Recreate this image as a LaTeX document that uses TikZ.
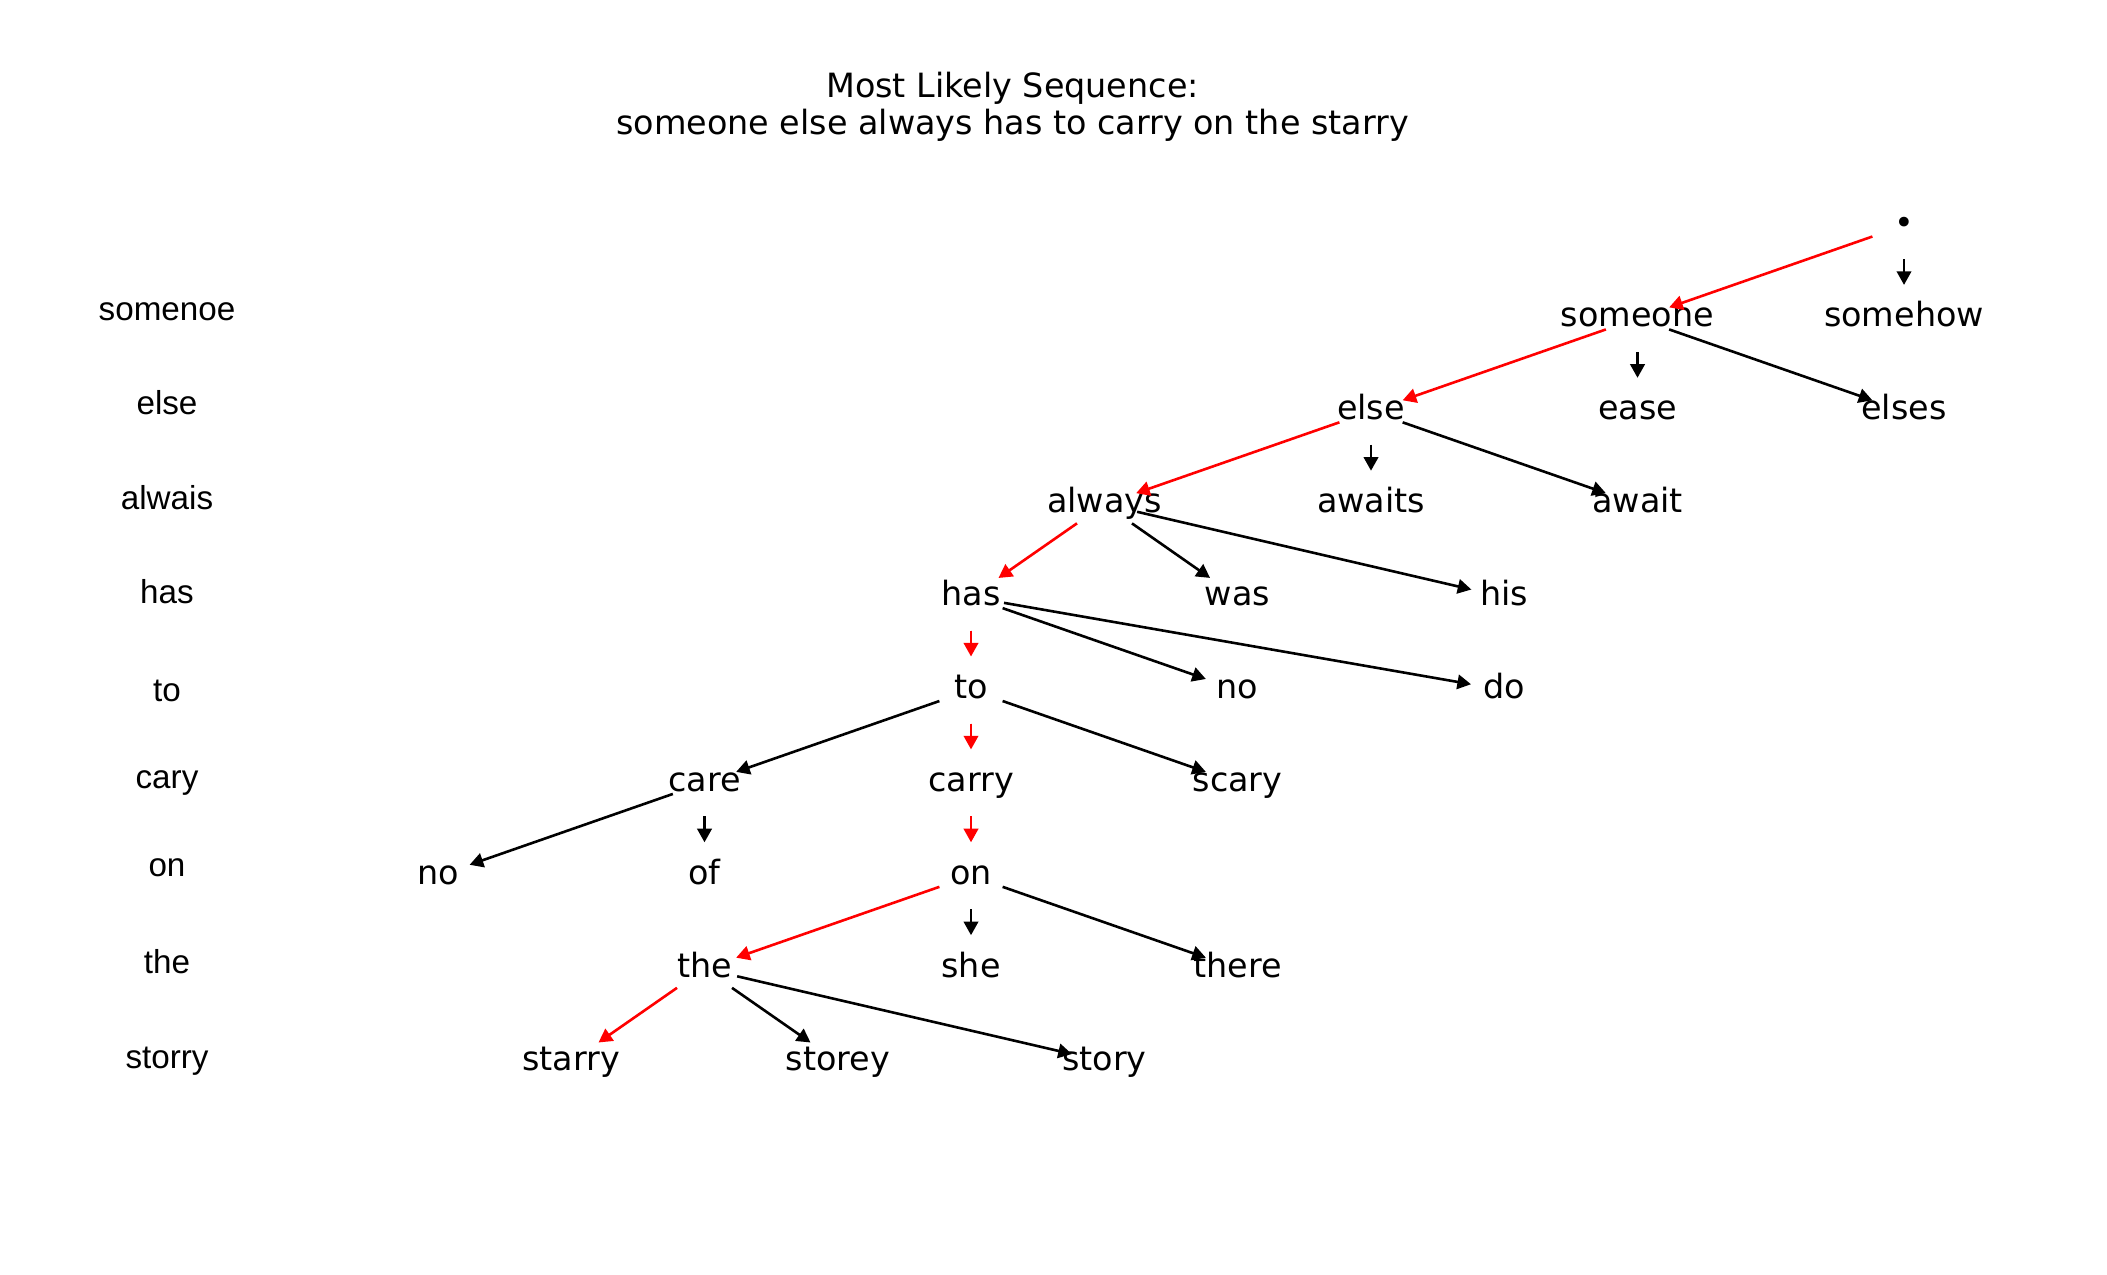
\documentclass[tikz,border=0pt]{standalone}
\usepackage{fontspec}
\setmainfont{DejaVu Sans}
\newfontfamily\labfont{Liberation Sans}
\usetikzlibrary{arrows.meta}
\begin{document}
\begin{tikzpicture}[x=0.5pt,y=-0.5pt,
  word/.style={inner sep=0pt, text height=12pt, text depth=3.5pt, font=\fontsize{16.7}{19}\selectfont},
  lab/.style={anchor=base, inner sep=0pt, font=\labfont\fontsize{16.6}{19}\selectfont},
  ttl/.style={anchor=base, inner sep=0pt, font=\fontsize{16.7}{19}\selectfont},
  edge/.style={line width=1.3pt, -{Triangle[length=6.8pt,width=7.2pt]}, shorten <=16.75pt, shorten >=16.75pt},
  best/.style={edge, draw=red, fill=red},
  other/.style={edge, draw=black, fill=black}]
\useasboundingbox (0,0) rectangle (2107,1274);

% title
\node[ttl] (title1) at (1012.5,97) {Most Likely Sequence:};
\node[ttl] (title2) at (1012.5,134.5) {someone else always has to carry on the starry};

% left labels
\node[lab] (l1) at (167,320) {somenoe};
\node[lab] (l2) at (167,414) {else};
\node[lab] (l3) at (167,509.3) {alwais};
\node[lab] (l4) at (167,603.3) {has};
\node[lab] (l5) at (167,701.7) {to};
\node[lab] (l6) at (167,788.3) {cary};
\node[lab] (l7) at (167,876.7) {on};
\node[lab] (l8) at (167,973.3) {the};
\node[lab] (l9) at (167,1068.3) {storry};

% tree words
\node[word] (w-start) at (1904,225.5) {•};
\node[word] (w-someone) at (1637.5,318.4) {someone};
\node[word] (w-somehow) at (1904,318.4) {somehow};
\node[word] (w-else) at (1371,411.3) {else};
\node[word] (w-ease) at (1637.5,411.3) {ease};
\node[word] (w-elses) at (1904,411.3) {elses};
\node[word] (w-always) at (1104.5,504.2) {always};
\node[word] (w-awaits) at (1371,504.2) {awaits};
\node[word] (w-await) at (1637.5,504.2) {await};
\node[word] (w-has) at (971,597.1) {has};
\node[word] (w-was) at (1237.5,597.1) {was};
\node[word] (w-his) at (1504,597.1) {his};
\node[word] (w-to) at (971,690) {to};
\node[word] (w-no1) at (1237.5,690) {no};
\node[word] (w-do) at (1504,690) {do};
\node[word] (w-care) at (704.5,782.9) {care};
\node[word] (w-carry) at (971,782.9) {carry};
\node[word] (w-scary) at (1237.5,782.9) {scary};
\node[word] (w-no2) at (438,875.8) {no};
\node[word] (w-of) at (704.5,875.8) {of};
\node[word] (w-on) at (971,875.8) {on};
\node[word] (w-the) at (704.5,968.7) {the};
\node[word] (w-she) at (971,968.7) {she};
\node[word] (w-there) at (1237.5,968.7) {there};
\node[word] (w-starry) at (571,1061.6) {starry};
\node[word] (w-storey) at (838,1061.6) {storey};
\node[word] (w-story) at (1104.5,1061.6) {story};

% edges
\draw[best] (w-start.center) -- (w-someone.center);
\draw[other] (w-start.center) -- (w-somehow.center);
\draw[best] (w-someone.center) -- (w-else.center);
\draw[other] (w-someone.center) -- (w-ease.center);
\draw[other] (w-someone.center) -- (w-elses.center);
\draw[best] (w-else.center) -- (w-always.center);
\draw[other] (w-else.center) -- (w-awaits.center);
\draw[other] (w-else.center) -- (w-await.center);
\draw[best] (w-always.center) -- (w-has.center);
\draw[other] (w-always.center) -- (w-was.center);
\draw[other] (w-always.center) -- (w-his.center);
\draw[best] (w-has.center) -- (w-to.center);
\draw[other] (w-has.center) -- (w-no1.center);
\draw[other] (w-has.center) -- (w-do.center);
\draw[other] (w-to.center) -- (w-care.center);
\draw[best] (w-to.center) -- (w-carry.center);
\draw[other] (w-to.center) -- (w-scary.center);
\draw[other] (w-care.center) -- (w-no2.center);
\draw[other] (w-care.center) -- (w-of.center);
\draw[best] (w-carry.center) -- (w-on.center);
\draw[best] (w-on.center) -- (w-the.center);
\draw[other] (w-on.center) -- (w-she.center);
\draw[other] (w-on.center) -- (w-there.center);
\draw[best] (w-the.center) -- (w-starry.center);
\draw[other] (w-the.center) -- (w-storey.center);
\draw[other] (w-the.center) -- (w-story.center);
\end{tikzpicture}
\end{document}
